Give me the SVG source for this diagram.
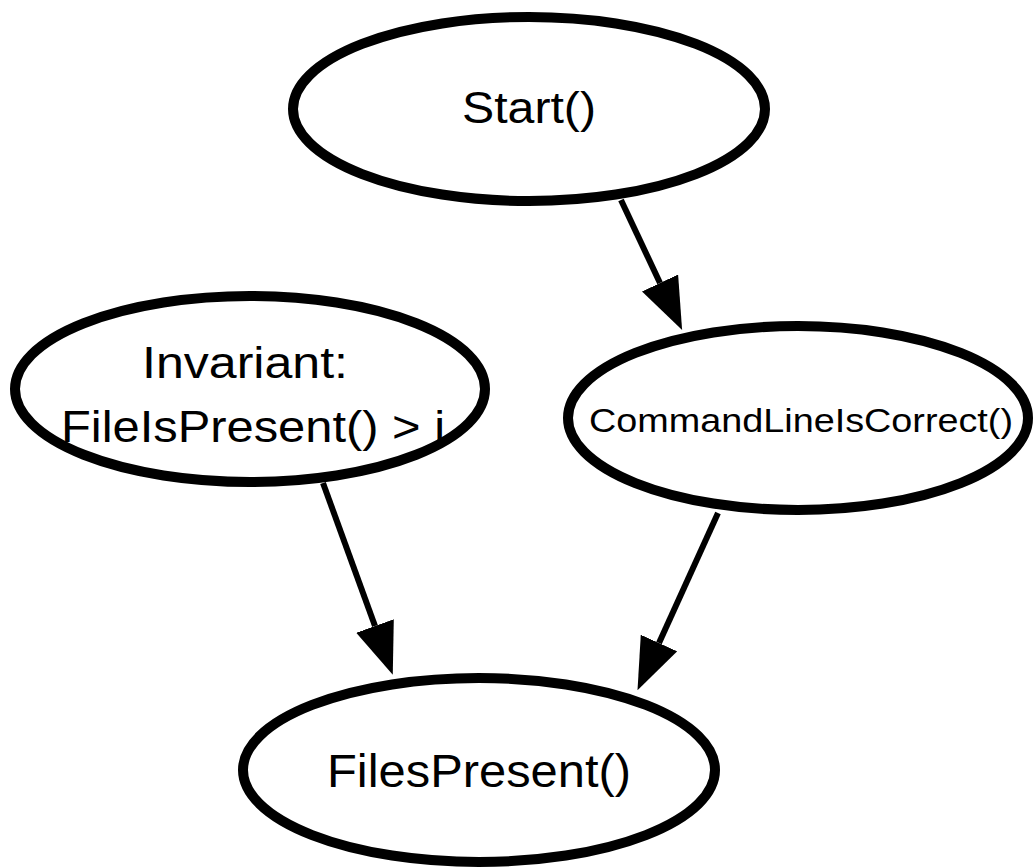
<svg xmlns="http://www.w3.org/2000/svg" width="1035" height="867" viewBox="0 0 1035 867">
<style>
.node ellipse{fill:#fff;stroke:#000;stroke-width:10}
.node text{font-family:"Liberation Sans",Arial,sans-serif;fill:#000;text-anchor:middle}
.edge{stroke:#000;stroke-width:6;fill:none}
</style>
<defs>
<marker id="arr" markerUnits="userSpaceOnUse" viewBox="0 0 52 40" refX="0" refY="20" markerWidth="52" markerHeight="40" orient="auto">
<path d="M0,0 L52,20 L0,40 Z" fill="#000"/>
</marker>
</defs>
<rect width="1035" height="867" fill="#fff"/>
<g id="n-start" class="node">
<ellipse cx="529" cy="109" rx="236" ry="92"/>
<text x="529" y="123" font-size="44" textLength="134" lengthAdjust="spacingAndGlyphs">Start()</text>
</g>
<g id="n-invariant" class="node">
<ellipse cx="250" cy="389" rx="235" ry="93"/>
<text x="245" y="378" font-size="44" textLength="206" lengthAdjust="spacingAndGlyphs">Invariant:</text>
<text x="253" y="442" font-size="44" textLength="384" lengthAdjust="spacingAndGlyphs">FileIsPresent() &gt; i</text>
</g>
<g id="n-cmdline" class="node">
<ellipse cx="798" cy="418" rx="230" ry="92"/>
<text x="801" y="432" font-size="34" textLength="424" lengthAdjust="spacingAndGlyphs">CommandLineIsCorrect()</text>
</g>
<g id="n-files" class="node">
<ellipse cx="479" cy="770" rx="236" ry="92"/>
<text x="479" y="787" font-size="47" textLength="304" lengthAdjust="spacingAndGlyphs">FilesPresent()</text>
</g>
<g id="edges">
<line class="edge" x1="621" y1="200" x2="660" y2="283" marker-end="url(#arr)"/>
<line class="edge" x1="323" y1="483" x2="375" y2="626" marker-end="url(#arr)"/>
<line class="edge" x1="718" y1="513" x2="659" y2="643" marker-end="url(#arr)"/>
</g>
</svg>
